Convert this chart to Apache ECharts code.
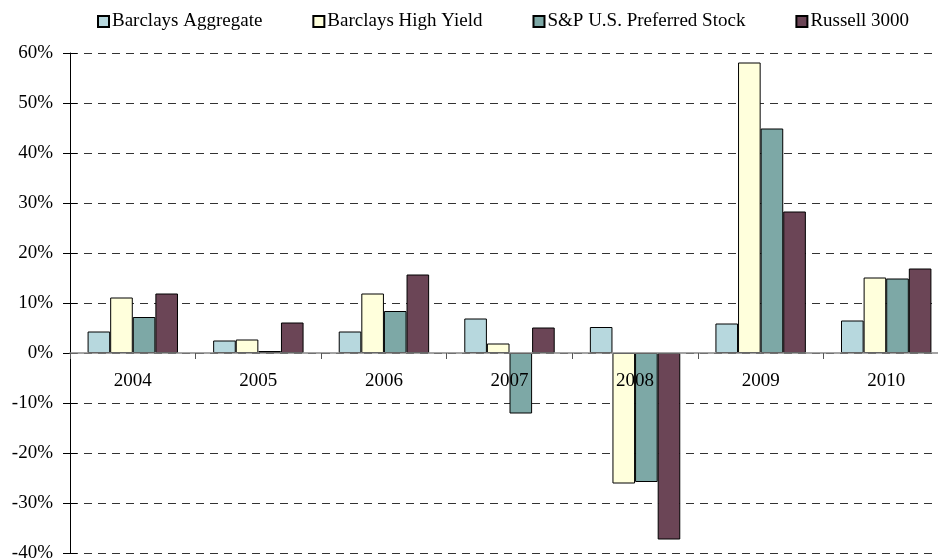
<!DOCTYPE html>
<html>
<head>
<meta charset="utf-8">
<script src="https://cdn.jsdelivr.net/npm/echarts@6/dist/echarts.min.js"></script>
<style>
  html, body { margin: 0; padding: 0; background: #fff; }
  #chart { width: 938px; height: 559px; }
</style>
</head>
<body>
<div id="chart"></div>
<script>
// 年份和各指数年度回报 (%)
var years = ["2004", "2005", "2006", "2007", "2008", "2009", "2010"];
var seriesNames = ["Barclays Aggregate", "Barclays High Yield", "S&P U.S. Preferred Stock", "Russell 3000"];
var aggregate = [4.3, 2.5, 4.3, 6.9, 5.2, 5.9, 6.5];
var highYield = [11.1, 2.7, 11.9, 1.9, -26.1, 58.1, 15.1];
var preferred = [7.2, 0.4, 8.4, -12.1, -25.8, 44.9, 14.9];
var russell = [11.9, 6.1, 15.7, 5.1, -37.3, 28.3, 16.9];
var colors = ["#b7d8de", "#ffffdc", "#7da8a6", "#6b4556"];

(function () {
  var myechart = echarts.init(document.getElementById("chart"));
  var fontFamily = "Liberation Serif";
  var allData = [aggregate, highYield, preferred, russell];

  var series = seriesNames.map(function (name, i) {
    return {
      name: name,
      type: "bar",
      barGap: 0,
      barCategoryGap: "28%",
      itemStyle: {
        color: colors[i],
        borderColor: "#000",
        borderWidth: 1,
      },
      data: allData[i],
    };
  });

  var yBase = {
    type: "value",
    min: -40,
    max: 60,
    interval: 10,
  };

  var option = {
    animation: false,
    textStyle: { fontFamily: fontFamily },
    legend: {
      top: 7,
      left: 92,
      icon: "rect",
      itemWidth: 11,
      itemHeight: 11,
      itemGap: 50,
      textStyle: { fontSize: 19, color: "#000", fontFamily: fontFamily, padding: [0, 0, 0, -2] },
      data: seriesNames,
    },
    grid: {
      left: 70,
      right: -11,
      top: 53,
      bottom: 6,
      containLabel: false,
      outerBoundsMode: "none",
    },
    xAxis: {
      type: "category",
      data: years,
      z: 10,
      // 轴放在0%的位置
      offset: -200,
      axisLine: { onZero: false, lineStyle: { color: "#868686", width: 1.5 } },
      axisTick: { show: true, length: 6, lineStyle: { color: "#555" } },
      axisLabel: { color: "#000", fontSize: 19, margin: 19 },
      splitLine: { show: false },
    },
    yAxis: [
      Object.assign({}, yBase, {
        axisLine: { show: true, lineStyle: { color: "#000", width: 1 } },
        axisTick: { show: true, length: 7, lineStyle: { color: "#000" } },
        axisLabel: {
          color: "#000",
          fontSize: 19,
          margin: 17,
          formatter: "{value}%",
        },
        splitLine: {
          lineStyle: { color: "#333", type: [8, 6], width: 1 },
        },
      }),
      // 内侧刻度
      Object.assign({}, yBase, {
        position: "left",
        axisLine: { show: false },
        axisTick: { show: true, inside: true, length: 7, lineStyle: { color: "#000" } },
        axisLabel: { show: false },
        splitLine: { show: false },
      }),
    ],
    series: series,
  };

  myechart.setOption(option);
  window.addEventListener("resize", function () {
    myechart.resize();
  });
})();
</script>
</body>
</html>
